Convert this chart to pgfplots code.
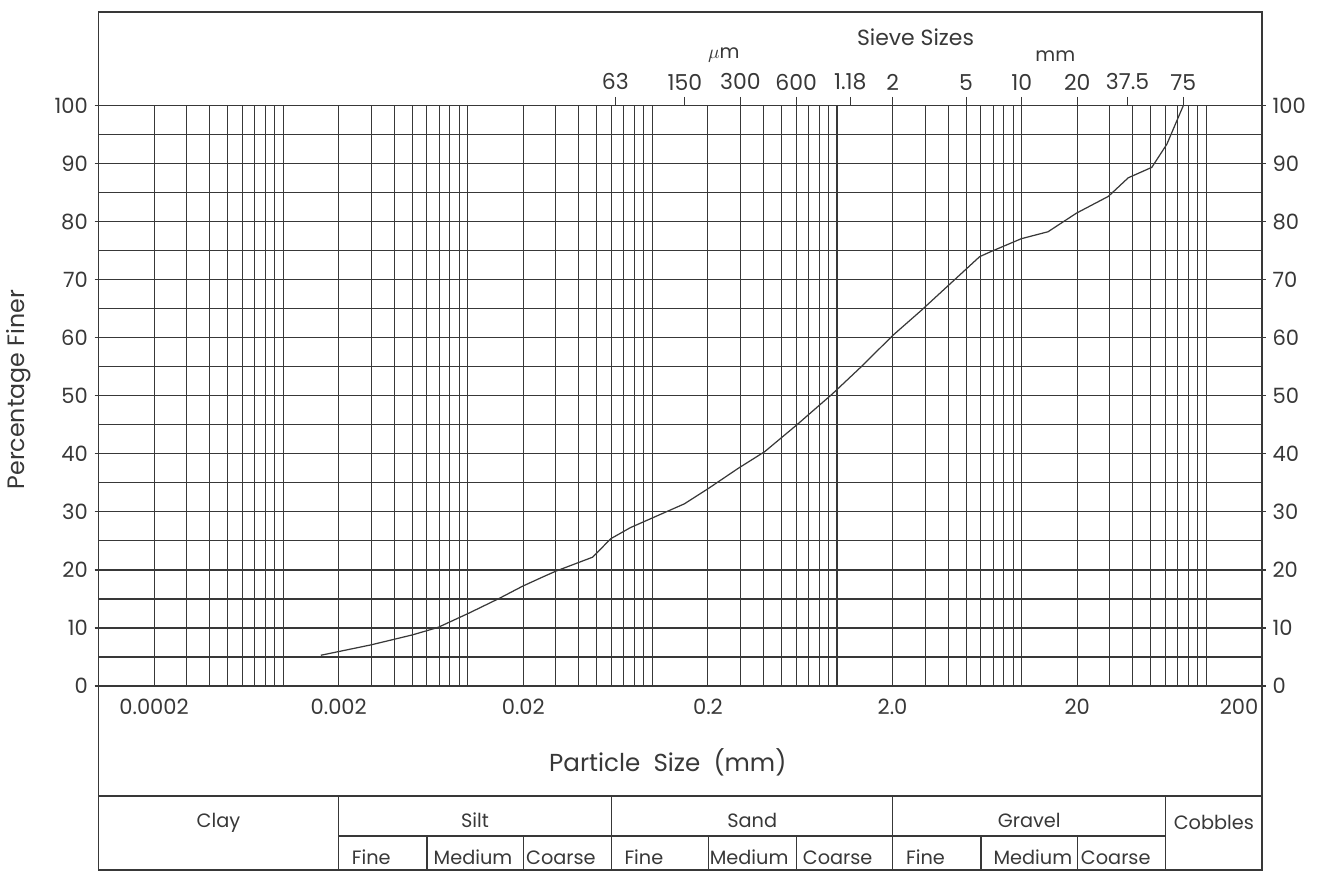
\documentclass[border=0pt]{standalone}
\usepackage{fontspec}
\setmainfont{Poppins}
\usepackage{pgfplots}
\pgfplotsset{compat=1.18}
\definecolor{ink}{gray}{0.22}

% grading curve, particle size (mm) vs percentage finer
\pgfplotstableread{
size pct
0.0016 5.3
0.003 7.1
0.005 8.8
0.0069 10.1
0.0102 12.6
0.0148 15.1
0.0198 17.2
0.0255 18.8
0.030 19.8
0.0474 22.2
0.0596 25.4
0.076 27.3
0.149 31.4
0.2 34.0
0.291 37.5
0.406 40.4
0.605 45.0
0.94 50.3
1.37 55.2
2.0 60.4
2.85 64.7
5.92 74.0
6.84 74.9
9.96 77.1
13.9 78.3
19.8 81.5
29.5 84.4
37.8 87.6
50.7 89.4
61.2 93.4
75 100
}\grading

\begin{document}
\fontsize{11}{13}\selectfont
\begin{tikzpicture}
\begin{axis}[
  scale only axis, width=23.3cm, height=11.62cm,
  at={(1.94cm,-13.74cm)}, anchor=south west,
  xmode=log, xmin=1e-4, xmax=200, ymin=0, ymax=100,
  axis line style={ink, line width=0.7pt},
  tick style={ink, line width=0.6pt},
  ticklabel style={text=ink, font=\fontsize{12}{14}\selectfont},
  /pgf/number format/assume math mode=true,
  xtick={0.0002,0.002,0.02,0.2,2,20,200},
  xticklabels={0.0002,0.002,0.02,0.2,2.0,20,\llap{200\,}},
  major x tick style={draw=none},
  minor xtick={2e-4,3e-4,4e-4,5e-4,6e-4,7e-4,8e-4,9e-4,
    1e-3,2e-3,3e-3,4e-3,5e-3,6e-3,7e-3,8e-3,9e-3,
    1e-2,2e-2,3e-2,4e-2,5e-2,6e-2,7e-2,8e-2,9e-2,
    0.1,0.2,0.3,0.4,0.5,0.6,0.7,0.8,0.9,
    1,2,3,4,5,6,7,8,9,
    10,20,30,40,50,60,70,80,90,100},
  minor x tick style={draw=none},
  xminorgrids,
  ytick={0,10,...,100},
  minor ytick={5,15,...,95},
  minor y tick style={draw=none},
  ymajorgrids, yminorgrids,
  xtick pos=bottom, ytick pos=left,
  tick align=outside, major tick length=0.08cm,
  grid style={ink, line width=0.6pt},
  minor grid style={ink, line width=0.6pt},
  xticklabel style={yshift=-0.04cm},
]
\addplot[ink, line width=0.7pt] table[x=size, y=pct] {\grading};
\end{axis}

% sieve sizes along the top
\begin{axis}[
  scale only axis, width=23.3cm, height=11.62cm,
  at={(1.94cm,-13.74cm)}, anchor=south west,
  xmode=log, xmin=1e-4, xmax=200, ymin=0, ymax=100,
  axis line style={ink, line width=0.7pt},
  tick style={ink, line width=0.6pt},
  ticklabel style={text=ink, font=\fontsize{12.5}{14}\selectfont},
  axis x line*=top, hide y axis,
  xtick={0.063,0.15,0.3,0.6,1.18,2,5,10,20,37.5,75},
  xticklabels={63,150,300,600,1.18,2,5,10,20,37.5,75},
  minor xtick={},
  tick align=outside, major tick length=0.18cm,
]
\end{axis}

% percentages on the right
\begin{axis}[
  scale only axis, width=23.3cm, height=11.62cm,
  at={(1.94cm,-13.74cm)}, anchor=south west,
  xmode=log, xmin=1e-4, xmax=200, ymin=0, ymax=100,
  axis line style={ink, line width=0.7pt},
  tick style={ink, line width=0.6pt},
  ticklabel style={text=ink, font=\fontsize{12}{14}\selectfont},
  /pgf/number format/assume math mode=true,
  axis y line*=right, hide x axis,
  ytick={0,10,...,100}, minor ytick={},
  tick align=outside, major tick length=0.08cm,
]
\end{axis}

\begin{scope}[x=0.02cm, y=-0.02cm, draw=ink, text=ink, line width=0.7pt]
\path (0,0) rectangle (1329,875);
\draw (97,12) rectangle (1262,871);
\draw (97,797) -- (1262,797);
\draw (337.6,837) -- (1165.4,837);
\foreach \x in {337.6,610.7,892.3,1165.4} \draw (\x,797) -- (\x,871);
\foreach \x in {425.8,522.5,707.4,795.6,980.5,1077.2} \draw (\x,837) -- (\x,871);

\node[font=\fontsize{12.5}{15}\selectfont] at (915,37) {Sieve Sizes};
\node at (723,55) {$\mu$m};
\node at (1055,56) {mm};
\node[font=\fontsize{13.5}{15}\selectfont, rotate=90] at (17,390) {Percentage Finer};
\node[font=\fontsize{14}{16}\selectfont] at (667,763) {Particle\ \ Size\ \ (mm)};

\node[anchor=base] at (217,829) {Clay};
\node[anchor=base] at (474,829) {Silt};
\node[anchor=base] at (751.5,829) {Sand};
\node[anchor=base] at (1028.9,829) {Gravel};
\node[anchor=base] at (1213.7,831) {Cobbles};

\node[anchor=base west, inner sep=0pt] at (350,866) {Fine};
\node[anchor=base west, inner sep=0pt] at (432,866) {Medium};
\node[anchor=base west, inner sep=0pt] at (524.5,866) {Coarse};
\node[anchor=base west, inner sep=0pt] at (623,866) {Fine};
\node[anchor=base west, inner sep=0pt] at (708.4,866) {Medium};
\node[anchor=base west, inner sep=0pt] at (801.6,866) {Coarse};
\node[anchor=base west, inner sep=0pt] at (905,866) {Fine};
\node[anchor=base west, inner sep=0pt] at (992.5,866) {Medium};
\node[anchor=base west, inner sep=0pt] at (1080,866) {Coarse};
\end{scope}
\end{tikzpicture}
\end{document}
